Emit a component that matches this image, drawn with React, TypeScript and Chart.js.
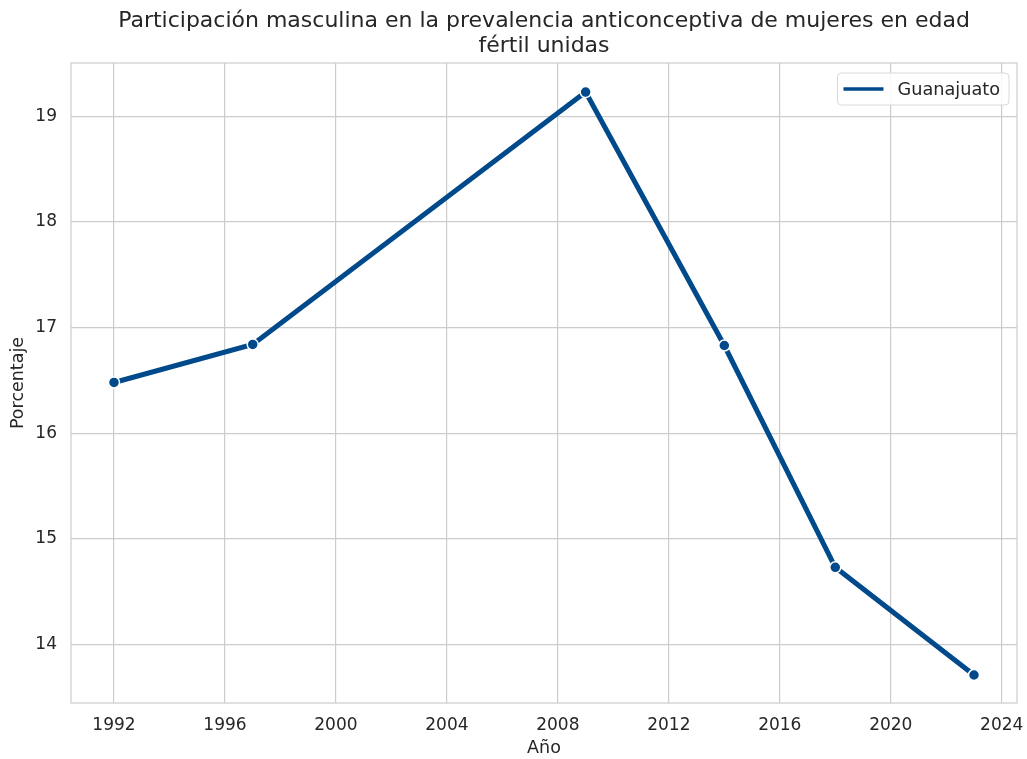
import { useEffect, useRef } from "react";
import { Chart, registerables } from "chart.js";
Chart.register(...registerables);

const years = [1992, 1997, 2009, 2014, 2018, 2023];
const values = [16.48, 16.84, 19.23, 16.83, 14.73, 13.71];
const xTicks = [1992, 1996, 2000, 2004, 2008, 2012, 2016, 2020, 2024];
const yTicks = [14, 15, 16, 17, 18, 19];
const titleLines = [
  "Participación masculina en la prevalencia anticonceptiva de mujeres en edad",
  "fértil unidas",
];
const seriesLabel = "Guanajuato";
const xLabel = "Año";
const yLabel = "Porcentaje";

const LINE = "#004a8b";
const GRID = "#cccccc";
const TEXT = "#262626";
const FONT = "DejaVu Sans";

const framePlugin = {
  id: "frame",
  beforeDatasetsDraw(chart: any) {
    const { ctx, chartArea: a } = chart;
    ctx.save();
    ctx.strokeStyle = GRID;
    ctx.lineWidth = 1.2;
    ctx.strokeRect(a.left, a.top, a.right - a.left, a.bottom - a.top);
    ctx.restore();
  },
};

const titlePlugin = {
  id: "customTitle",
  afterDraw(chart: any) {
    const { ctx, chartArea: a } = chart;
    ctx.save();
    ctx.fillStyle = TEXT;
    ctx.font = `22px "${FONT}"`;
    ctx.textAlign = "center";
    ctx.textBaseline = "middle";
    const cx = (a.left + a.right) / 2;
    ctx.fillText(titleLines[0], cx, 21);
    ctx.fillText(titleLines[1], cx, 46);
    ctx.restore();
  },
};

const legendPlugin = {
  id: "customLegend",
  afterDraw(chart: any) {
    const { ctx, chartArea: a } = chart;
    ctx.save();
    ctx.font = `17.7px "${FONT}"`;
    const tw = ctx.measureText(seriesLabel).width;
    const w = 60 + tw + 9;
    const h = 32;
    const x = a.right - 8 - w;
    const y = a.top + 10;
    ctx.beginPath();
    const r = 4;
    ctx.moveTo(x + r, y);
    ctx.arcTo(x + w, y, x + w, y + h, r);
    ctx.arcTo(x + w, y + h, x, y + h, r);
    ctx.arcTo(x, y + h, x, y, r);
    ctx.arcTo(x, y, x + w, y, r);
    ctx.closePath();
    ctx.fillStyle = "rgba(255,255,255,0.85)";
    ctx.fill();
    ctx.strokeStyle = "#d9d9d9";
    ctx.lineWidth = 1;
    ctx.stroke();
    const cy = y + h / 2;
    ctx.strokeStyle = LINE;
    ctx.lineWidth = 3.5;
    ctx.beginPath();
    ctx.moveTo(x + 6, cy);
    ctx.lineTo(x + 46, cy);
    ctx.stroke();
    ctx.fillStyle = TEXT;
    ctx.textBaseline = "middle";
    ctx.fillText(seriesLabel, x + 60, cy + 1);
    ctx.restore();
  },
};

export default function App() {
  const ref = useRef<HTMLCanvasElement | null>(null);
  useEffect(() => {
    document.body.style.margin = "0";
    const canvas = ref.current!;
    const chart = new Chart(canvas, {
      type: "line",
      data: {
        datasets: [
          {
            label: seriesLabel,
            data: years.map((y, i) => ({ x: y, y: values[i] })),
            borderColor: LINE,
            backgroundColor: LINE,
            borderWidth: 5,
            pointRadius: 5.5,
            pointBackgroundColor: LINE,
            pointBorderColor: "#ffffff",
            pointBorderWidth: 1.5,
            tension: 0,
          },
        ],
      },
      plugins: [framePlugin, titlePlugin, legendPlugin],
      options: {
        animation: false,
        responsive: false,
        devicePixelRatio: 1,
        layout: { padding: { top: 63, right: 10, left: 0, bottom: 0 } },
        plugins: {
          legend: { display: false },
          title: { display: false },
          tooltip: { enabled: false },
        },
        scales: {
          x: {
            type: "linear",
            min: 1990.45,
            max: 2024.55,
            afterBuildTicks: (s: any) => {
              s.ticks = xTicks.map((v) => ({ value: v }));
            },
            afterFit: (s: any) => {
              s.height = 56;
              s.paddingLeft = 0;
              s.paddingRight = 0;
            },
            grid: { color: GRID, lineWidth: 1.2, drawTicks: false },
            border: { display: false },
            ticks: {
              color: TEXT,
              font: { family: FONT, size: 17 },
              padding: 12,
              maxRotation: 0,
              autoSkip: false,
              callback: (v: any) => String(v),
            },
            title: {
              display: true,
              text: xLabel,
              color: TEXT,
              font: { family: FONT, size: 17.5 },
              padding: { top: 0, bottom: 0 },
            },
          },
          y: {
            type: "linear",
            min: 13.445,
            max: 19.505,
            afterBuildTicks: (s: any) => {
              s.ticks = yTicks.map((v) => ({ value: v }));
            },
            afterFit: (s: any) => {
              s.width = 71;
              s.paddingTop = 0;
              s.paddingBottom = 0;
            },
            grid: { color: GRID, lineWidth: 1.2, drawTicks: false },
            border: { display: false },
            ticks: {
              color: TEXT,
              font: { family: FONT, size: 17 },
              padding: 14,
              autoSkip: false,
              callback: (v: any) => String(v),
            },
            title: {
              display: true,
              text: yLabel,
              color: TEXT,
              font: { family: FONT, size: 17.5 },
              padding: { top: 8, bottom: 0 },
            },
          },
        },
      },
    } as any);
    return () => chart.destroy();
  }, []);
  return (
    <canvas
      ref={ref}
      width={1027}
      height={759}
      style={{ display: "block", width: 1027, height: 759 }}
    />
  );
}
